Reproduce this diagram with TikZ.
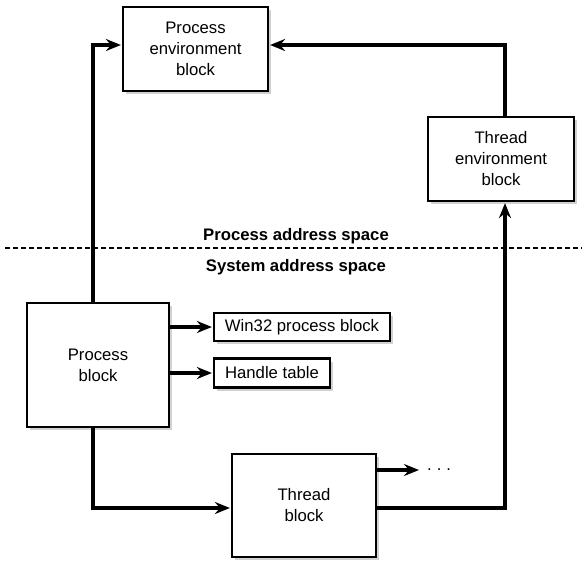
\documentclass[tikz,border=0pt]{standalone}
\usepackage{fontspec}
\setmainfont{Liberation Sans}
\usetikzlibrary{arrows.meta,shadows,calc}
\begin{document}
\begin{tikzpicture}[x=1pt,y=-1pt,
  font=\fontsize{16.7}{21}\selectfont,
  blk/.style={draw, line width=2.2pt, fill=white, align=center, inner sep=0pt,
    drop shadow={shadow xshift=3pt, shadow yshift=-3pt, fill=black!18, opacity=1}},
  conn/.style={line width=4pt, -{Stealth[length=15pt,width=12pt,inset=5pt]}, shorten >=1pt},
  plain/.style={line width=4pt},
  lbl/.style={font=\fontsize{16.7}{21}\selectfont\bfseries, inner sep=0pt}]
\useasboundingbox (0,0) rectangle (582,566);
\fill[white] (0,0) rectangle (582,566);

\node[blk, minimum width=145pt, minimum height=84pt] (peb) at (195.5,49) {Process\\environment\\block};
\node[blk, minimum width=146pt, minimum height=84pt] (teb) at (501,159) {Thread\\environment\\block};
\node[blk, minimum width=142pt, minimum height=124pt] (pb) at (98,365) {Process\\block};
\node[blk, minimum width=176pt, minimum height=28pt] (win) at (302,327) {Win32 process block};
\node[blk, minimum width=116pt, minimum height=29pt] (ht) at (272,373) {Handle table};
\node[blk, minimum width=144pt, minimum height=103pt] (tb) at (304,505.5) {Thread\\block};
\node[inner sep=0pt, anchor=west] (dots) at (427,470) {.\hspace{5pt}.\hspace{5pt}.};

\node[lbl] (pas) at (296,236) {Process address space};
\node[lbl] (sas) at (296,267) {System address space};
\draw[line width=1.8pt, dash pattern=on 5pt off 3pt] (5,248) -- (582,248);

\draw[conn] ([xshift=-5pt]pb.north) |- ([yshift=4pt]peb.west);
\draw[conn] ([xshift=4pt]teb.north) |- ([yshift=4pt]peb.east);
\draw[conn] ([xshift=-5pt]pb.south) |- ([yshift=-2.5pt]tb.west);
\draw[conn] ([yshift=-2.5pt]tb.east) -| ([xshift=4pt]teb.south);
\draw[conn] (pb.east |- win.west) -- (win.west);
\draw[conn] (pb.east |- ht.west) -- (ht.west);
\draw[conn, shorten >=8pt] (tb.east |- dots.west) -- (dots.west);
\end{tikzpicture}
\end{document}
